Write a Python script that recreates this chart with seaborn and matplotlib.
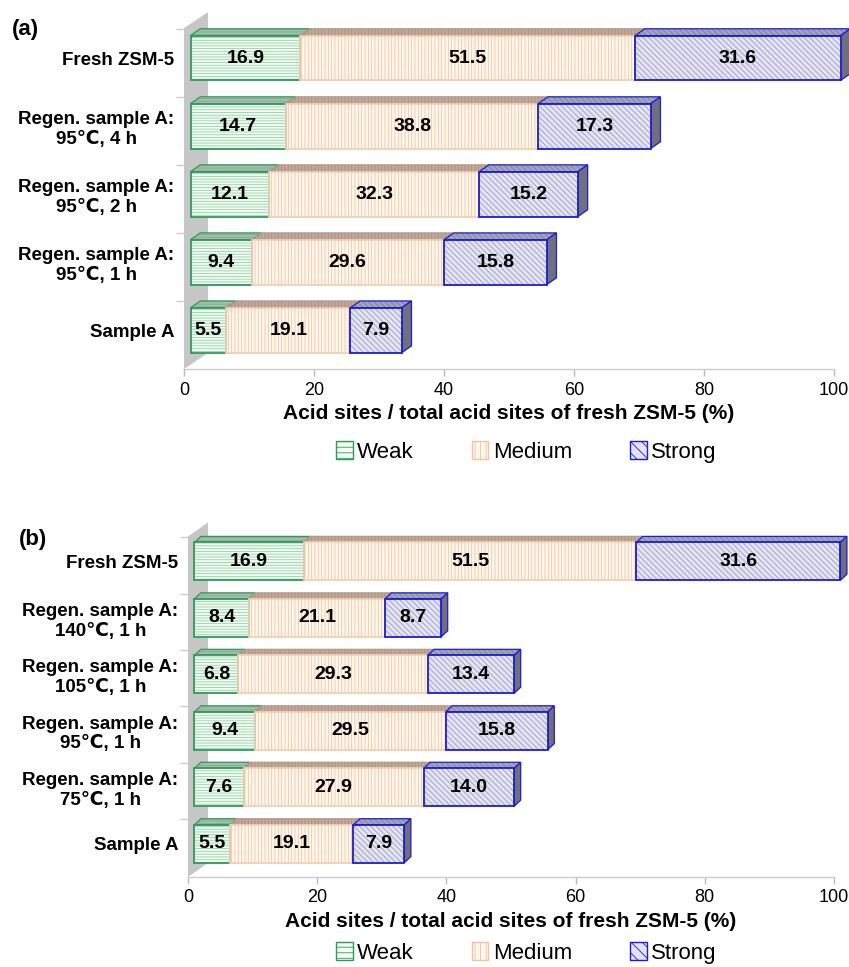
import numpy as np
import matplotlib
matplotlib.use("Agg")
import matplotlib.pyplot as plt
from matplotlib.patches import Polygon, Patch
import seaborn as sns

# Panel (a): regeneration time series
cats_a = ["Fresh ZSM-5", "Regen. sample A:\n95℃, 4 h", "Regen. sample A:\n95℃, 2 h",
          "Regen. sample A:\n95℃, 1 h", "Sample A"]
weak_a = [16.9, 14.7, 12.1, 9.4, 5.5]
medium_a = [51.5, 38.8, 32.3, 29.6, 19.1]
strong_a = [31.6, 17.3, 15.2, 15.8, 7.9]

# Panel (b): regeneration temperature series
cats_b = ["Fresh ZSM-5", "Regen. sample A:\n140℃, 1 h", "Regen. sample A:\n105℃, 1 h",
          "Regen. sample A:\n95℃, 1 h", "Regen. sample A:\n75℃, 1 h", "Sample A"]
weak_b = [16.9, 8.4, 6.8, 9.4, 7.6, 5.5]
medium_b = [51.5, 21.1, 29.3, 29.5, 27.9, 19.1]
strong_b = [31.6, 8.7, 13.4, 15.8, 14.0, 7.9]

series_names = ["Weak", "Medium", "Strong"]
x_ticks = [0, 20, 40, 60, 80, 100]
x_label = "Acid sites / total acid sites of fresh ZSM-5 (%)"

STYLE = {
    "Weak": dict(face="#f3fbf3", hcol="#93d3aa", hatch="------", edge="#2e9a5c",
                 top="#a7beac", top_hcol="#86a890", top_edge="#2e9a5c"),
    "Medium": dict(face="#fff8ef", hcol="#f2c39f", hatch="|||||", edge="#f4cfb4",
                   top="#c0aa9b", top_hcol="#a88d7c", top_edge="#b49c8c"),
    "Strong": dict(face="#e3e3f3", hcol="#9d9dbb", hatch="\\\\\\\\\\\\", edge="#1c1cd2",
                   top="#a3a3ba", top_hcol="#7f7f99", top_edge="#1c1cd2"),
}
SIDE_COLOR = "#6f6f80"

sns.set_theme(style="white")
plt.rcParams["font.family"] = ["Liberation Sans", "DejaVu Sans"]
plt.rcParams["hatch.linewidth"] = 0.6
plt.rcParams["text.color"] = "black"
plt.rcParams["axes.labelcolor"] = "black"
plt.rcParams["xtick.labelcolor"] = "black"
plt.rcParams["ytick.labelcolor"] = "black"


def draw_panel(ax, cats, weak, medium, strong, bar_h, dx, dy, wall_dx, wall_dy, y_bottom):
    n = len(cats)
    pos = np.arange(n)
    offset = 1.0
    wall_top = -0.44

    # grey side wall of the 3D box
    ax.add_patch(Polygon([(0, y_bottom), (0, wall_top), (wall_dx, wall_top - wall_dy),
                          (wall_dx, y_bottom - wall_dy)],
                         closed=True, facecolor="#c6c6c6", edgecolor="none", zorder=1))

    cum = np.full(n, offset)
    for name, vals in zip(series_names, [weak, medium, strong]):
        st = STYLE[name]
        vals = np.asarray(vals, dtype=float)
        # front faces (hatched)
        sns.barplot(x=vals, y=cats, order=cats, left=cum, color=st["face"], saturation=1,
                    edgecolor=st["hcol"], hatch=st["hatch"], linewidth=0, width=bar_h,
                    errorbar=None, orient="y", ax=ax, zorder=3)
        # outlines
        ax.barh(pos, vals, left=cum, height=bar_h, fill=False, edgecolor=st["edge"],
                linewidth=1.3, zorder=4)
        # top faces
        for i in range(n):
            l, r = cum[i], cum[i] + vals[i]
            yt = i - bar_h / 2
            pts = [(l, yt), (r, yt), (r + dx, yt - dy), (l + dx, yt - dy)]
            ax.add_patch(Polygon(pts, closed=True, facecolor=st["top"], edgecolor=st["top_hcol"],
                                 hatch=st["hatch"], linewidth=0, zorder=2))
            ax.add_patch(Polygon(pts, closed=True, fill=False, edgecolor=st["top_edge"],
                                 linewidth=0.9, zorder=2.5))
            ax.text((l + r) / 2, i, f"{vals[i]:.1f}", ha="center", va="center",
                    fontsize=14, fontweight="bold", color="black", zorder=6)
        cum = cum + vals

    # right side faces of the last segment
    edge = STYLE["Strong"]["edge"]
    for i in range(n):
        R = cum[i]
        yt, yb = i - bar_h / 2, i + bar_h / 2
        ax.add_patch(Polygon([(R, yt), (R + dx, yt - dy), (R + dx, yb - dy), (R, yb)],
                             closed=True, facecolor=SIDE_COLOR, edgecolor=edge,
                             linewidth=0.9, zorder=2.5))

    for p in ax.patches:
        p.set_clip_on(False)

    ax.set_xlim(0, 100)
    ax.set_ylim(y_bottom, -0.75)
    ax.set_xticks(x_ticks)
    ax.set_xticklabels([str(t) for t in x_ticks], fontsize=13)
    ax.set_yticks(pos)
    ax.set_yticklabels(cats, fontsize=13.5, fontweight="bold", multialignment="center")
    ax.set_yticks(pos - 0.43, minor=True)
    ax.tick_params(axis="y", which="major", length=0, pad=7)
    ax.tick_params(axis="y", which="minor", length=6, color="#cccccc", width=1, left=True)
    ax.tick_params(axis="x", length=5, color="#bbbbbb", width=1, bottom=True, pad=4)
    for s in ["top", "right", "left"]:
        ax.spines[s].set_visible(False)
    ax.spines["bottom"].set_color("#cccccc")
    ax.spines["bottom"].set_linewidth(1.0)
    ax.set_xlabel(x_label, fontsize=15, fontweight="bold", labelpad=4)
    ax.set_ylabel("")
    ax.set_facecolor("none")


def add_legend(fig, y):
    handles = [Patch(facecolor=STYLE[k]["face"], edgecolor=STYLE[k]["edge"] if k != "Medium" else STYLE[k]["hcol"],
                     hatch=STYLE[k]["hatch"][:3], linewidth=1.0) for k in series_names]
    fig.legend(handles, series_names, loc="center", bbox_to_anchor=(0.62, y), ncol=3,
               frameon=False, fontsize=16, handlelength=0.75, handleheight=0.85,
               handletextpad=0.2, columnspacing=2.6)


def main():
    W, H = 849, 967
    fig = plt.figure(figsize=(W / 100, H / 100), dpi=100)

    ax_a = fig.add_axes([184 / W, 1 - 369 / H, 650 / W, (369 - 7) / H])
    draw_panel(ax_a, cats_a, weak_a, medium_a, strong_a, bar_h=0.66, dx=1.5, dy=0.1,
               wall_dx=3.7, wall_dy=0.235, y_bottom=4.57)

    ax_b = fig.add_axes([188 / W, 1 - 877 / H, 646 / W, (877 - 519) / H])
    draw_panel(ax_b, cats_b, weak_b, medium_b, strong_b, bar_h=0.67, dx=1.0, dy=0.107,
               wall_dx=3.1, wall_dy=0.25, y_bottom=5.59)

    fig.text(25 / W, 1 - 29 / H, "(a)", fontsize=16, fontweight="bold", ha="center", va="center")
    fig.text(33 / W, 1 - 540 / H, "(b)", fontsize=16, fontweight="bold", ha="center", va="center")

    add_legend(fig, 1 - 452 / H)
    add_legend(fig, 1 - 953 / H)

    fig.savefig("out.png", dpi=100)


if __name__ == "__main__":
    main()
